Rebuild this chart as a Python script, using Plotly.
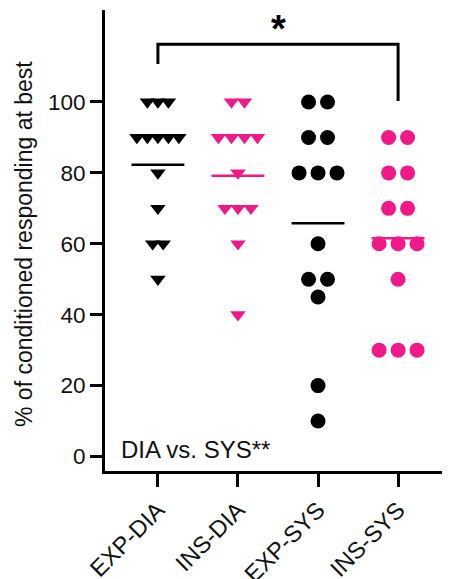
import numpy as np
import plotly.graph_objects as go

# ---------------- data ----------------
categories = ["EXP-DIA", "INS-DIA", "EXP-SYS", "INS-SYS"]
exp_dia = [100, 100, 100, 90, 90, 90, 90, 90, 80, 70, 60, 60, 50]
ins_dia = [100, 100, 90, 90, 90, 90, 80, 70, 70, 70, 60, 40]
exp_sys = [100, 100, 90, 90, 80, 80, 80, 60, 50, 50, 45, 20, 10]
ins_sys = [90, 90, 80, 80, 70, 70, 60, 60, 60, 50, 30, 30, 30]
y_ticks = [0, 20, 40, 60, 80, 100]
bracket_label = "*"
stats_label = "DIA vs. SYS**"
y_title = "% of conditioned responding at best"

# ---------------- style ----------------
BLACK = "#000000"
PINK = "#F01987"
FONT = "Liberation Sans, Arial, sans-serif"
PAGE_OFF = 8  # default body margin of the page
W, H = 450 - PAGE_OFF, 579 - PAGE_OFF
ML, MR, MT = 105 - PAGE_OFF, 0, 10 - PAGE_OFF
MB = H - (471 - PAGE_OFF)
PW, PH = W - ML - MR, H - MT - MB
CAT_PX = 80.2
X_RANGE = [-(158 - 105) / CAT_PX, 3 + (450 - 398) / CAT_PX]
Y_RANGE = [-4.09, 125.95]

groups = [
    dict(vals=exp_dia, color=BLACK, symbol="triangle-down", size=13.5, spacing=10.5),
    dict(vals=ins_dia, color=PINK, symbol="triangle-down", size=13.5, spacing=13.0),
    dict(vals=exp_sys, color=BLACK, symbol="circle", size=15, spacing=19.0),
    dict(vals=ins_sys, color=PINK, symbol="circle", size=15, spacing=19.0),
]


def jitter(vals, spacing_px):
    """Horizontal offsets (category units) so equal values sit side by side."""
    vals = list(vals)
    offs = [0.0] * len(vals)
    for v in sorted(set(vals)):
        idx = [i for i, x in enumerate(vals) if x == v]
        n = len(idx)
        for k, i in enumerate(idx):
            offs[i] = (k - (n - 1) / 2) * spacing_px / CAT_PX
    return np.array(offs)


fig = go.Figure()
MEAN_HALF = 26.5 / CAT_PX
for ci, g in enumerate(groups):
    xs = ci + jitter(g["vals"], g["spacing"])
    fig.add_trace(go.Scatter(
        x=xs, y=g["vals"], mode="markers",
        marker=dict(symbol=g["symbol"], size=g["size"], color=g["color"], line=dict(width=0)),
        showlegend=False, hoverinfo="y",
    ))
    m = float(np.mean(g["vals"]))
    fig.add_trace(go.Scatter(
        x=[ci - MEAN_HALF, ci + MEAN_HALF], y=[m, m], mode="lines",
        line=dict(color=g["color"], width=2.5), showlegend=False, hoverinfo="skip",
    ))

# significance bracket between EXP-DIA and INS-SYS
BR_TOP, BR_LEFT_BOTTOM, BR_RIGHT_BOTTOM = 116.3, 110.7, 100.3
fig.add_shape(type="path",
              path=f"M 0,{BR_LEFT_BOTTOM} L 0,{BR_TOP} L 3,{BR_TOP} L 3,{BR_RIGHT_BOTTOM}",
              xref="x", yref="y", line=dict(color=BLACK, width=3))
fig.add_annotation(x=1.5, y=120.6, xref="x", yref="y", text=f"<b>{bracket_label}</b>",
                   showarrow=False, font=dict(size=38, color=BLACK, family=FONT),
                   xanchor="center", yanchor="middle")

fig.add_annotation(x=(119 - 105) / PW, y=(471 - 449) / PH, xref="paper", yref="paper",
                   text=stats_label, showarrow=False,
                   font=dict(size=24, color="#111111", family=FONT),
                   xanchor="left", yanchor="middle")

fig.add_annotation(x=-(105 - 24) / PW, y=(471 - 244) / PH, xref="paper", yref="paper",
                   text=y_title, textangle=-90, showarrow=False,
                   font=dict(size=23, color="#111111", family=FONT),
                   xanchor="center", yanchor="middle")

fig.update_layout(
    width=W, height=H,
    margin=dict(l=ML, r=MR, t=MT, b=MB, autoexpand=False),
    paper_bgcolor="white", plot_bgcolor="white",
    font=dict(family=FONT, size=22, color="#111111"),
    xaxis=dict(range=X_RANGE, tickmode="array", tickvals=list(range(len(categories))),
               ticktext=categories, tickangle=-45, ticks="outside", ticklen=13, tickwidth=3,
               tickcolor=BLACK, showline=True, linecolor=BLACK, linewidth=3,
               showgrid=False, zeroline=False, tickfont=dict(size=23.5, family=FONT)),
    yaxis=dict(range=Y_RANGE, tickmode="array", tickvals=y_ticks, ticks="outside",
               ticklen=12, tickwidth=3, tickcolor=BLACK, showline=True, linecolor=BLACK,
               linewidth=3, showgrid=False, zeroline=False, tickfont=dict(size=22.5, family=FONT)),
)

fig.write_html("out.html")
